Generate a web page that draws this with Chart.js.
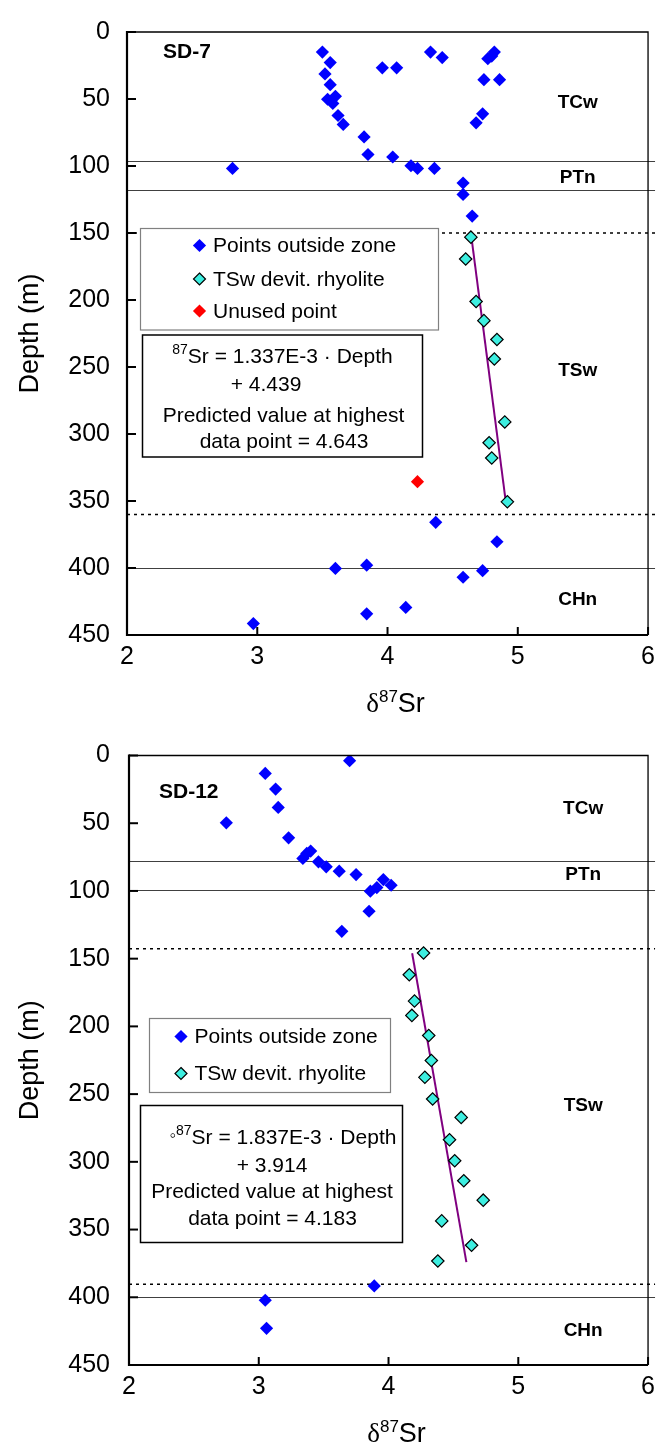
<!DOCTYPE html>
<html>
<head>
<meta charset="utf-8">
<script src="https://cdn.jsdelivr.net/npm/chart.js@4.4.1/dist/chart.umd.min.js"></script>
<style>
  body { margin: 0; background: #fff; }
  canvas { position: absolute; left: 0; }
</style>
</head>
<body>
<canvas id="sd7" width="662" height="720" style="top:0"></canvas>
<canvas id="sd12" width="662" height="723" style="top:720px"></canvas>
<script>
/* SD-7 */
const sd7OutX = [3.50, 3.56, 3.52, 3.56, 3.54, 3.60, 3.58, 3.62, 3.66, 3.82, 3.85, 3.96, 4.07, 4.04, 4.33, 4.42,
  4.18, 4.23, 4.36, 2.81, 4.58, 4.58, 4.65, 4.74, 4.86, 4.77, 4.80, 4.82, 4.73, 4.68,
  4.37, 4.84, 3.60, 3.84, 4.58, 4.73, 4.14, 3.84, 2.97];
const sd7OutDepth = [15.0, 22.8, 31.3, 39.3, 50.2, 48.0, 53.3, 62.3, 69.0, 78.3, 91.4, 26.7, 26.7, 93.3, 15.0, 19.1,
  99.8, 101.8, 101.8, 101.8, 112.7, 121.2, 137.4, 35.6, 35.6, 19.9, 18.0, 15.0, 61.1, 67.8,
  365.9, 380.4, 400.3, 397.9, 406.9, 402.0, 429.4, 434.2, 441.5];
const sd7TswX = [4.64, 4.60, 4.68, 4.74, 4.84, 4.82, 4.90, 4.78, 4.80, 4.92];
const sd7TswDepth = [153.1, 169.4, 201.1, 215.4, 229.5, 244.0, 291.0, 306.5, 317.9, 350.6];
const sd7UnusedX = [4.23];
const sd7UnusedDepth = [335.6];
const sd7FitX = [4.644, 4.908];
const sd7FitDepth = [153.1, 350.6];
const sd7Solid = [96, 118, 400];
const sd7Dashed = [150, 360];
const sd7ZoneDepth = [52.5, 108.5, 252.5, 423.5];

/* SD-12 */
const sd12OutX = [3.70, 3.05, 3.13, 3.15, 2.75, 3.23, 3.34, 3.37, 3.40, 3.46, 3.52, 3.62, 3.75, 3.96, 4.02,
  3.91, 3.86, 3.85, 3.64, 3.89, 3.05, 3.06];
const sd12OutDepth = [3.8, 13.2, 24.8, 38.3, 49.7, 60.8, 76.0, 72.3, 70.6, 78.5, 82.2, 85.4, 87.9, 91.6, 95.8,
  97.5, 100.2, 115.0, 129.8, 391.6, 402.2, 422.9];
const sd12TswX = [4.27, 4.16, 4.20, 4.18, 4.31, 4.33, 4.28, 4.34, 4.56, 4.47, 4.51, 4.58, 4.73, 4.41, 4.64, 4.38];
const sd12TswDepth = [145.8, 161.9, 181.3, 191.9, 206.7, 225.2, 237.6, 253.6, 267.2, 283.7, 299.2, 314.0,
  328.3, 343.6, 361.6, 373.2];
const sd12FitX = [4.182, 4.600];
const sd12FitDepth = [146, 374];
const sd12Solid = [78, 99, 400];
const sd12Dashed = [142.6, 390.4];
const sd12ZoneDepth = [39, 88.4, 258.5, 425];

const zoneNames = ['TCw', 'PTn', 'TSw', 'CHn'];
const xTicks = [2, 3, 4, 5, 6];
const yTicks = [0, 50, 100, 150, 200, 250, 300, 350, 400, 450];

const FONT = 'Arial, "Liberation Sans", sans-serif';
const SERIF = '"Times New Roman", "Liberation Serif", serif';
const BLUE = '#0000ff', CYAN = '#3deee0', RED = '#ff0000', PURPLE = '#800080';

function pts(xs, ds){
  return xs.map((v, i) => ({x: v, y: ds[i]}));
}

function diamond(ctx, x, y, r, fill, stroke){
  ctx.beginPath();
  ctx.moveTo(x, y - r); ctx.lineTo(x + r, y); ctx.lineTo(x, y + r); ctx.lineTo(x - r, y);
  ctx.closePath();
  ctx.fillStyle = fill; ctx.fill();
  if(stroke){ ctx.strokeStyle = stroke; ctx.lineWidth = 1.2; ctx.stroke(); }
}

// draws a line of text made of parts [text, size, raise, family], centred on cx
function richText(ctx, parts, cx, y){
  let w = 0;
  parts.forEach(p => { ctx.font = p[1] + 'px ' + (p[3] || FONT); w += ctx.measureText(p[0]).width; });
  let x = cx - w / 2;
  ctx.textAlign = 'left';
  parts.forEach(p => {
    ctx.font = p[1] + 'px ' + (p[3] || FONT);
    ctx.fillText(p[0], x, y - (p[2] || 0));
    x += ctx.measureText(p[0]).width;
  });
}

function deco(cfg){
  return {
    id: 'deco',
    beforeDatasetsDraw(chart){
      const {ctx, chartArea: a, scales: {x, y}} = chart;
      ctx.save();
      // unit boundaries
      ctx.strokeStyle = '#404040'; ctx.lineWidth = 1;
      cfg.solid.forEach(d => {
        const py = Math.round(y.getPixelForValue(d)) + 0.5;
        ctx.beginPath(); ctx.moveTo(a.left, py); ctx.lineTo(a.right + 7, py); ctx.stroke();
      });
      ctx.strokeStyle = '#000'; ctx.lineWidth = 1.5; ctx.setLineDash([3, 4]);
      cfg.dashed.forEach(d => {
        const py = y.getPixelForValue(d);
        ctx.beginPath(); ctx.moveTo(a.left, py); ctx.lineTo(a.right + 7, py); ctx.stroke();
      });
      ctx.setLineDash([]);
      ctx.fillStyle = '#000'; ctx.textBaseline = 'middle'; ctx.textAlign = 'center';
      ctx.font = 'bold 19px ' + FONT;
      zoneNames.forEach((n, i) => ctx.fillText(n, x.getPixelForValue(cfg.zoneX), y.getPixelForValue(cfg.zoneDepth[i])));
      ctx.textAlign = 'left';
      ctx.font = 'bold 21px ' + FONT;
      ctx.fillText(cfg.title, cfg.titlePos[0], cfg.titlePos[1]);

      // legend box
      const L = cfg.legend;
      ctx.fillStyle = '#fff'; ctx.fillRect(L.box[0], L.box[1], L.box[2], L.box[3]);
      ctx.strokeStyle = '#808080'; ctx.lineWidth = 1.2;
      ctx.strokeRect(L.box[0], L.box[1], L.box[2], L.box[3]);
      ctx.font = '21px ' + FONT; ctx.textBaseline = 'middle';
      L.items.forEach((it, i) => {
        diamond(ctx, L.markX, L.rows[i], it.r, it.color, it.stroke);
        ctx.fillStyle = '#000';
        ctx.fillText(it.text, L.textX, L.rows[i] + 1);
      });

      // equation box
      const E = cfg.eq;
      ctx.fillStyle = '#fff'; ctx.fillRect(E.box[0], E.box[1], E.box[2], E.box[3]);
      ctx.strokeStyle = '#000'; ctx.lineWidth = 1.5;
      ctx.strokeRect(E.box[0], E.box[1], E.box[2], E.box[3]);
      ctx.fillStyle = '#000'; ctx.textBaseline = 'alphabetic';
      E.lines.forEach((parts, i) => richText(ctx, parts, E.cx[i], E.base[i]));
      ctx.restore();
    },
    afterDraw(chart){
      const {ctx, chartArea: a, scales: {x, y}} = chart;
      ctx.save();
      ctx.strokeStyle = '#000';
      ctx.lineWidth = 1.3;
      ctx.beginPath(); ctx.moveTo(a.left, a.top); ctx.lineTo(a.right, a.top); ctx.lineTo(a.right, a.bottom); ctx.stroke();
      ctx.lineWidth = 2.2;
      ctx.beginPath(); ctx.moveTo(a.left, a.top - 1); ctx.lineTo(a.left, a.bottom); ctx.lineTo(a.right, a.bottom); ctx.stroke();
      ctx.lineWidth = 2;
      yTicks.forEach(v => {
        const py = y.getPixelForValue(v);
        ctx.beginPath(); ctx.moveTo(a.left, py); ctx.lineTo(a.left + 9, py); ctx.stroke();
      });
      xTicks.forEach(v => {
        const px = x.getPixelForValue(v);
        ctx.beginPath(); ctx.moveTo(px, a.bottom); ctx.lineTo(px, a.bottom - 8); ctx.stroke();
      });
      // axis titles
      ctx.fillStyle = '#000';
      ctx.textBaseline = 'alphabetic';
      richText(ctx, [['\u03b4', 27, 0, SERIF], ['87', 17, 10], ['Sr', 27, 0]], (a.left + a.right) / 2 + 8, a.bottom + 77);
      ctx.translate(38, (a.top + a.bottom) / 2);
      ctx.rotate(-Math.PI / 2);
      ctx.textAlign = 'center';
      ctx.font = '27px ' + FONT;
      ctx.fillText('Depth (m)', 0, 0);
      ctx.restore();
    }
  };
}

function makeChart(id, sets, cfg){
  const datasets = [
    {label: 'TSw devit. rhyolite', data: pts(sets.tswX, sets.tswD), pointStyle: 'rectRot', pointRadius: 6.2,
     backgroundColor: CYAN, borderColor: '#000', borderWidth: 1.2, order: 0},
    {label: 'Points outside zone', data: pts(sets.outX, sets.outD), pointStyle: 'rectRot', pointRadius: 6.6,
     backgroundColor: BLUE, borderWidth: 0, order: 2},
    {label: 'fit', data: pts(sets.fitX, sets.fitD), showLine: true, pointRadius: 0, borderColor: PURPLE,
     borderWidth: 2, order: 3}
  ];
  if(sets.unX){
    datasets.push({label: 'Unused point', data: pts(sets.unX, sets.unD), pointStyle: 'rectRot', pointRadius: 6.6,
      backgroundColor: RED, borderWidth: 0, order: 1});
  }
  return new Chart(document.getElementById(id), {
    type: 'scatter',
    data: {datasets: datasets},
    options: {
      responsive: false,
      animation: false,
      events: [],
      layout: {padding: {top: cfg.padTop, right: 9, left: 0, bottom: 0}},
      plugins: {legend: {display: false}, tooltip: {enabled: false}},
      scales: {
        x: {
          type: 'linear', min: 2, max: 6,
          ticks: {stepSize: 1, color: '#000', padding: 7, font: {size: 25, family: FONT}},
          grid: {display: false, drawTicks: false}, border: {display: false},
          afterFit: s => { s.height = cfg.xHeight; }
        },
        y: {
          type: 'linear', min: 0, max: 450, reverse: true,
          ticks: {stepSize: 50, color: '#000', padding: cfg.left - 110, font: {size: 25, family: FONT}},
          grid: {display: false, drawTicks: false}, border: {display: false},
          afterFit: s => { s.width = cfg.left; }
        }
      }
    },
    plugins: [deco(cfg)]
  });
}

makeChart('sd7',
  {outX: sd7OutX, outD: sd7OutDepth, tswX: sd7TswX, tswD: sd7TswDepth, unX: sd7UnusedX, unD: sd7UnusedDepth,
   fitX: sd7FitX, fitD: sd7FitDepth},
  {
    padTop: 16, xHeight: 85, left: 127, title: 'SD-7', titlePos: [163, 52],
    solid: sd7Solid, dashed: sd7Dashed, zoneDepth: sd7ZoneDepth, zoneX: 5.46,
    legend: {
      box: [140.5, 228.5, 298, 101.5], markX: 199.5, textX: 213, rows: [245.5, 279, 311],
      items: [
        {text: 'Points outside zone', color: BLUE, r: 6.6},
        {text: 'TSw devit. rhyolite', color: CYAN, stroke: '#000', r: 6},
        {text: 'Unused point', color: RED, r: 6.6}
      ]
    },
    eq: {
      box: [142.5, 335, 280, 122],
      lines: [
        [['87', 14, 9], ['Sr = 1.337E-3 \u00b7 Depth', 21]],
        [['+ 4.439', 21]],
        [['Predicted value at highest', 21]],
        [['data point = 4.643', 21]]
      ],
      cx: [282.5, 266, 283.5, 284], base: [362.5, 391, 422, 448]
    }
  });

makeChart('sd12',
  {outX: sd12OutX, outD: sd12OutDepth, tswX: sd12TswX, tswD: sd12TswDepth, fitX: sd12FitX, fitD: sd12FitDepth},
  {
    padTop: 35.5, xHeight: 78, left: 129, title: 'SD-12', titlePos: [159, 72],
    solid: sd12Solid, dashed: sd12Dashed, zoneDepth: sd12ZoneDepth, zoneX: 5.50,
    legend: {
      box: [149.5, 298.5, 241, 74], markX: 181, textX: 194.5, rows: [316.5, 353.5],
      items: [
        {text: 'Points outside zone', color: BLUE, r: 6.6},
        {text: 'TSw devit. rhyolite', color: CYAN, stroke: '#000', r: 6}
      ]
    },
    eq: {
      box: [140.5, 385.5, 262, 137],
      lines: [
        [['\u25e6', 18, 3], ['87', 14, 9], ['Sr = 1.837E-3 \u00b7 Depth', 21]],
        [['+ 3.914', 21]],
        [['Predicted value at highest', 21]],
        [['data point = 4.183', 21]]
      ],
      cx: [283, 272, 272, 272.5], base: [423.5, 452, 478, 505]
    }
  });
</script>
</body>
</html>
